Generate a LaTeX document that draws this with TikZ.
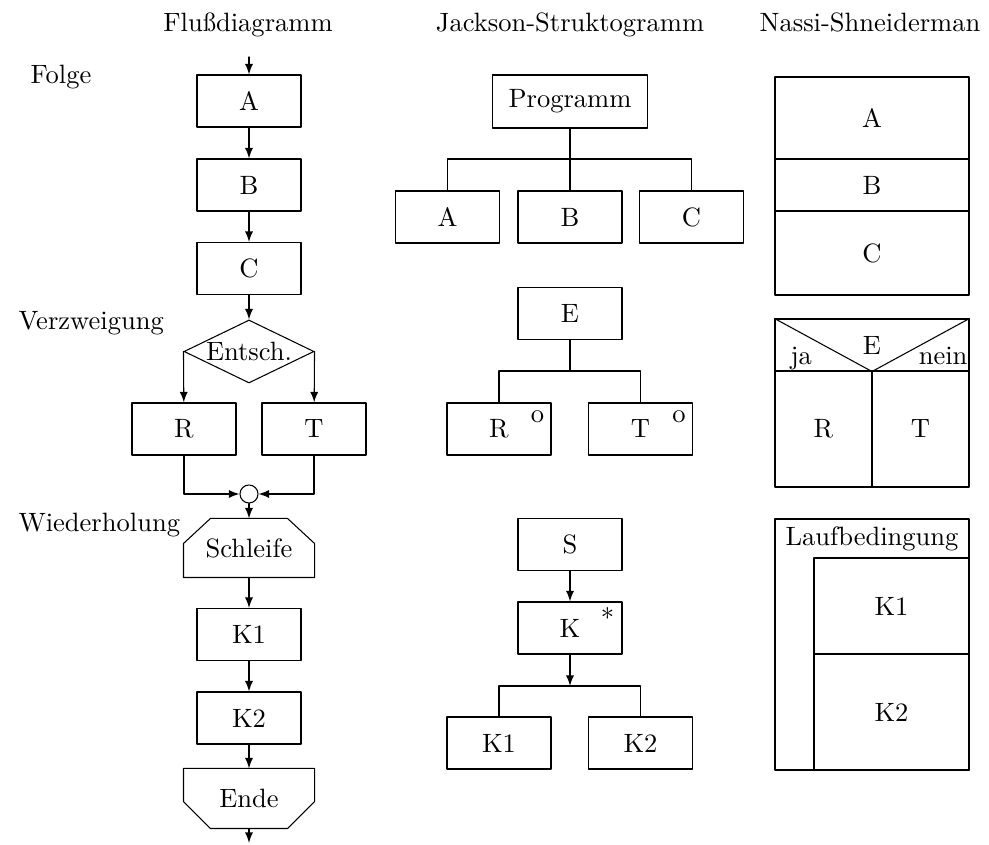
\documentclass[tikz,border=0pt]{standalone}
\usetikzlibrary{shapes.geometric, calc}
\newlength{\unitpx}
\setlength{\unitpx}{0.377pt}
\tikzset{
    box/.style={draw, minimum width=104*\unitpx, minimum height=52*\unitpx, inner sep=0pt},
    bigbox/.style={box, minimum width=155*\unitpx, minimum height=53*\unitpx},
    cell/.style={draw, inner sep=0pt},
    plain/.style={inner sep=0pt, minimum width=130*\unitpx},
    rowlabel/.style={anchor=base west, inner sep=0pt},
    title/.style={anchor=base, inner sep=0pt}
}

\begin{document}
\begin{tikzpicture}[x=\unitpx, y=-\unitpx, line cap=round, line join=round]
    \useasboundingbox (0,0) rectangle (989,845);
    %Titles
    \node[title] (tflow) at (248,32) {Flußdiagramm};
    \node[title] (tjack) at (570,32) {Jackson-Struktogramm};
    \node[title] (tnassi) at (870,32) {Nassi-Shneiderman};
        %Row Labels
    \node[rowlabel] (rseq) at (30,84) {Folge};
    \node[rowlabel] (rsel) at (18,330) {Verzweigung};
    \node[rowlabel] (rrep) at (18,532) {Wiederholung};

    %Flussdiagramm
    \coordinate (fin) at (249,57);
    \coordinate (fout) at (249,843);
    \node[box] (fa) at (249,101) {A};
    \node[box] (fb) at (249,185) {B};
    \node[box] (fc) at (249,268.5) {C};
    \node[draw, diamond, aspect=2, inner sep=0pt, minimum width=130*\unitpx, minimum height=63*\unitpx] (dec) at (249,351.5) {Entsch.};
    \node[box] (fr) at (184,429) {R};
    \node[box] (ft) at (314,429) {T};
    \node[draw, circle, minimum size=18*\unitpx, inner sep=0pt] (merge) at (249,494) {};
    \node[plain, minimum height=58*\unitpx] (loop) at (249,548) {Schleife};
    \node[box] (fk1) at (249,634.5) {K1};
    \node[box] (fk2) at (249,718) {K2};
    \node[plain, minimum height=59*\unitpx] (stop) at (249,798.5) {Ende};
        %Loop Outlines
    \draw (loop.south west) -- ($(loop.north west)+(0,25)$) -- ($(loop.north west)+(27,0)$) -- ($(loop.north east)+(-27,0)$) -- ($(loop.north east)+(0,25)$) -- (loop.south east) -- cycle;
    \draw (stop.north west) -- (stop.north east) -- ($(stop.south east)+(0,-27)$) -- ($(stop.south east)+(-27,0)$) -- ($(stop.south west)+(27,0)$) -- ($(stop.south west)+(0,-27)$) -- cycle;
        %Arrows
    \draw[-latex] (fin) -- (fa);
    \draw[-latex] (fa) -- (fb);
    \draw[-latex] (fb) -- (fc);
    \draw[-latex] (fc) -- (dec);
    \draw[-latex] (dec.west) -- (fr);
    \draw[-latex] (dec.east) -- (ft);
    \draw[-latex] (fr.south) |- (merge);
    \draw[-latex] (ft.south) |- (merge);
    \draw[-latex] (merge) -- (loop);
    \draw[-latex] (loop) -- (fk1);
    \draw[-latex] (fk1) -- (fk2);
    \draw[-latex] (fk2) -- (stop);
    \draw[-latex] (stop) -- (fout);

    %Jackson
        %Sequence
    \node[bigbox] (prog) at (570,101.5) {Programm};
    \node[box] (ja) at (447.5,217) {A};
    \node[box] (jb) at (570,217) {B};
    \node[box] (jc) at (691.5,217) {C};
    \coordinate (jsplit) at (570,159);
    \draw (prog) -- (jsplit);
    \draw (ja.north) |- (jsplit) -| (jc.north);
    \draw (jsplit) -- (jb);
        %Selection
    \node[box] (je) at (570,313.5) {E};
    \node[box] (jr) at (499,429) {R};
    \node[box] (jt) at (640.5,429) {T};
    \node (jro) at ($(jr.north east)+(-14,14)$) {o};
    \node (jto) at ($(jt.north east)+(-14,14)$) {o};
    \coordinate (jesplit) at (570,371);
    \draw (je) -- (jesplit);
    \draw (jr.north) |- (jesplit) -| (jt.north);
        %Iteration
    \node[box] (js) at (570,544.5) {S};
    \node[box] (jk) at (570,628) {K};
    \node (jkstar) at ($(jk.north east)+(-15,16)$) {*};
    \node[box] (jk1) at (499,743) {K1};
    \node[box] (jk2) at (640.5,743) {K2};
    \coordinate (jksplit) at (570,686);
    \draw[-latex] (js) -- (jk);
    \draw[-latex] (jk) -- (jksplit);
    \draw (jk1.north) |- (jksplit) -| (jk2.north);

    %Nassi-Shneiderman
        %Sequence
    \node[cell, minimum width=194*\unitpx, minimum height=82*\unitpx] (na) at (872,118) {A};
    \node[cell, minimum width=194*\unitpx, minimum height=52*\unitpx] (nb) at (872,185) {B};
    \node[cell, minimum width=194*\unitpx, minimum height=84*\unitpx] (nc) at (872,253) {C};
        %Selection
    \node[cell, minimum width=194*\unitpx, minimum height=52*\unitpx] (ne) at (872,345) {E};
    \draw (ne.north west) -- (ne.south) -- (ne.north east);
    \node[rowlabel] (nja) at (790,365) {ja};
    \node[anchor=base east, inner sep=0pt] (nnein) at (968,365) {nein};
    \node[cell, minimum width=97*\unitpx, minimum height=116*\unitpx] (nr) at (823.5,429) {R};
    \node[cell, minimum width=97*\unitpx, minimum height=116*\unitpx] (nt) at (920.5,429) {T};
        %Iteration
    \node[cell, minimum width=194*\unitpx, minimum height=251*\unitpx] (nloop) at (872,644.5) {};
    \node (ncond) at (872,539) {Laufbedingung};
    \node[cell, minimum width=155*\unitpx, minimum height=96*\unitpx] (nk1) at (891.5,606) {K1};
    \node[cell, minimum width=155*\unitpx, minimum height=116*\unitpx] (nk2) at (891.5,712) {K2};
\end{tikzpicture}
\end{document}
